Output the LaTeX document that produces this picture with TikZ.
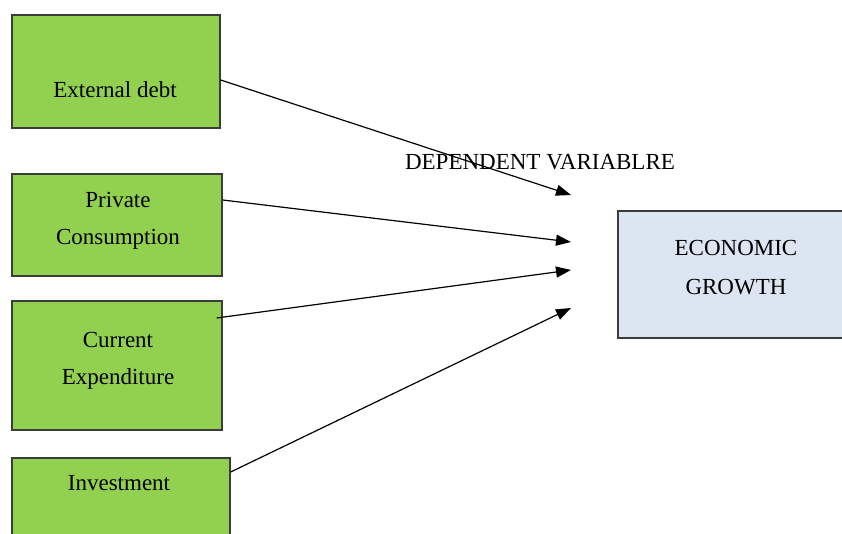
\documentclass[tikz,border=0pt]{standalone}
\usepackage{fontspec}
\setmainfont{Liberation Serif}
\usetikzlibrary{arrows.meta}
\definecolor{boxgreen}{HTML}{92D050}
\definecolor{boxblue}{HTML}{DCE6F2}
\definecolor{boxline}{HTML}{3C3C3C}
\begin{document}
\begin{tikzpicture}[x=0.5pt,y=-0.5pt,font=\fontsize{11.5}{13}\selectfont]
	\clip (0,0) rectangle (842,534);
	\begin{scope}[every node/.style={rectangle,draw=boxline,line width=0.65pt,inner sep=0pt}]
	\node[fill=boxgreen,minimum width=104pt,minimum height=56.5pt] (A) at (116,71.5) {};
	\node[fill=boxgreen,minimum width=105pt,minimum height=51pt] (B) at (117,225) {};
	\node[fill=boxgreen,minimum width=105pt,minimum height=64.5pt] (C) at (117,365.5) {};
	\node[fill=boxgreen,minimum width=109pt,minimum height=51pt] (D) at (121,509) {};
	\node[fill=boxblue,minimum width=126pt,minimum height=63.5pt] (G) at (744,274.5) {};
	\end{scope}
	\node (a) at (115,90) {External debt};
	\node (b1) at (118,200) {Private};
	\node (b2) at (118,239) {Consumption};
	\node (c1) at (118,340) {Current};
	\node (c2) at (118,379) {Expenditure};
	\node (d) at (119,483) {Investment};
	\node (g1) at (736,248) {ECONOMIC};
	\node (g2) at (736,287) {GROWTH};
	\node (v) at (540,162) {DEPENDENT VARIABLRE};
	\coordinate (ha) at (571,195);
	\coordinate (hb) at (571,242);
	\coordinate (hc) at (571,270);
	\coordinate (hd) at (571,308);
	\draw [line width=0.6pt,-{Triangle[length=7.5pt,width=5.5pt]}] ([yshift=-4.25pt]A.east) -- (ha);
	\draw [line width=0.6pt,-{Triangle[length=7.5pt,width=5.5pt]}] ([yshift=12.5pt]B.east) -- (hb);
	\draw [line width=0.6pt,-{Triangle[length=7.5pt,width=5.5pt]}] ([xshift=-3pt,yshift=23.75pt]C.east) -- (hc);
	\draw [line width=0.6pt,-{Triangle[length=7.5pt,width=5.5pt]}] ([yshift=18.5pt]D.east) -- (hd);
\end{tikzpicture}
\end{document}
